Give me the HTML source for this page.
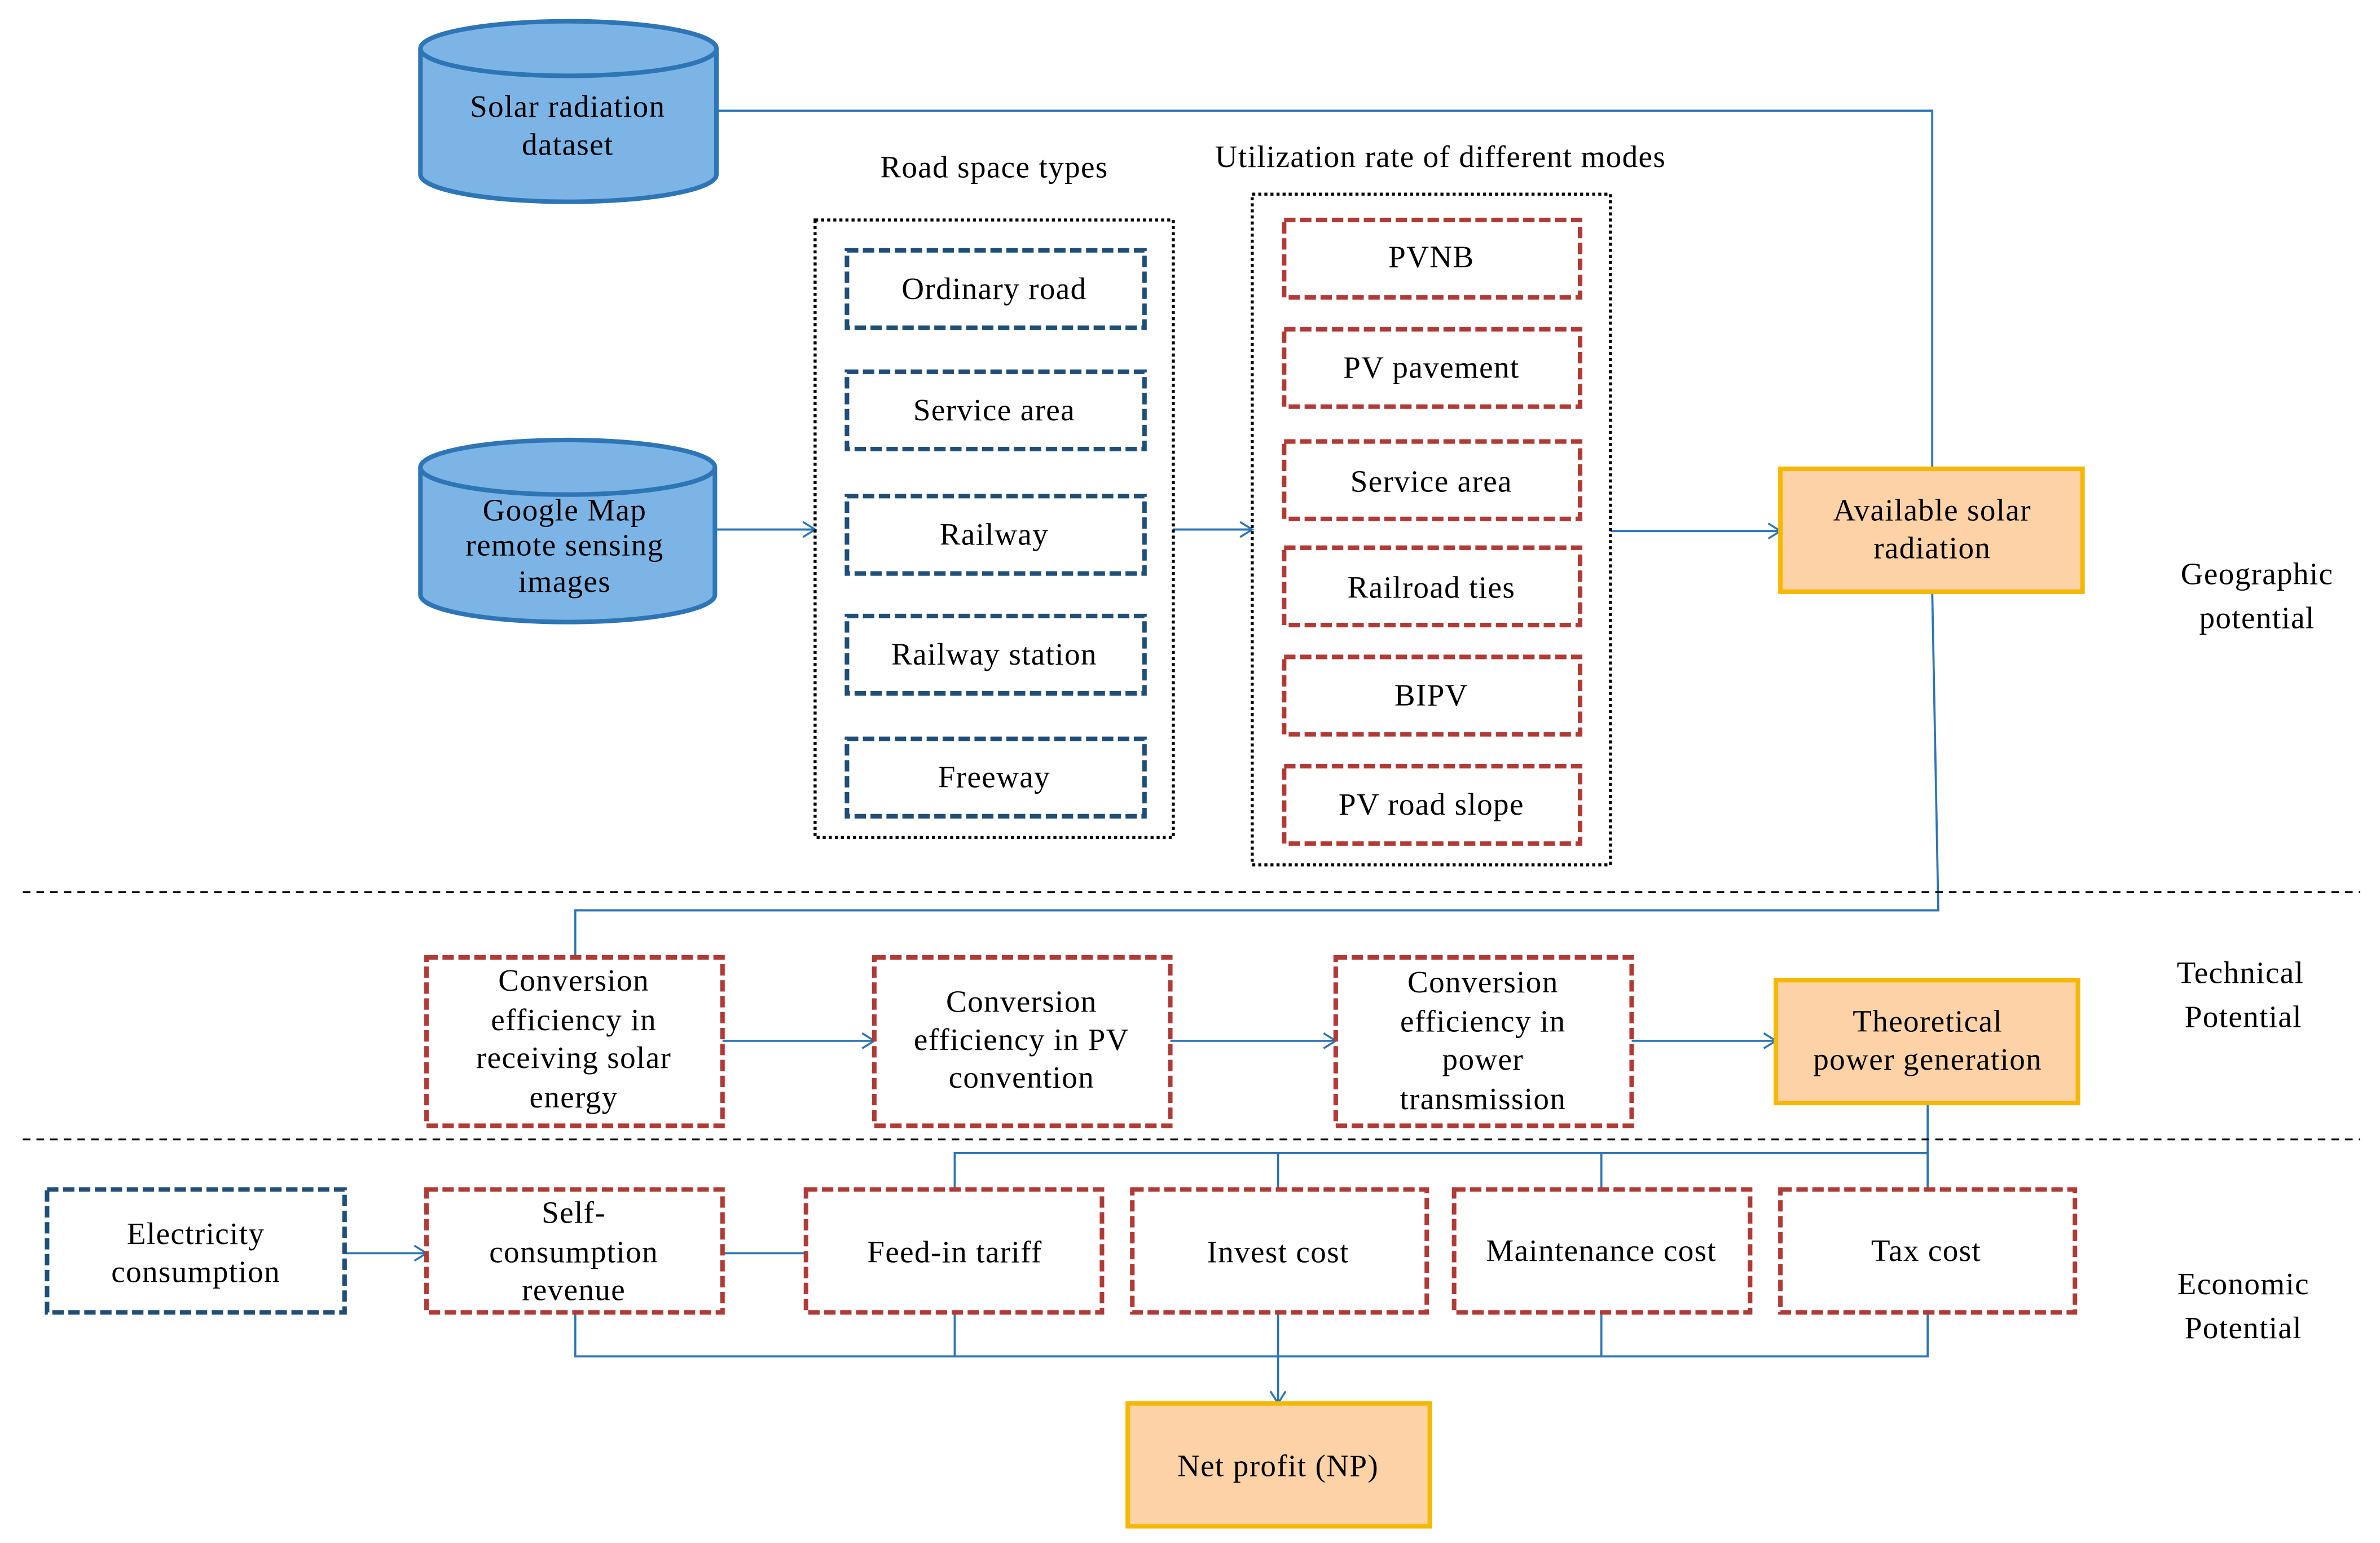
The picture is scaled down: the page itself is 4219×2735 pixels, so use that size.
<!DOCTYPE html>
<html><head><style>html,body{margin:0;padding:0;background:#fff}svg{display:block}</style></head><body>
<svg width="4219" height="2735" viewBox="0 0 1568 1017" preserveAspectRatio="none" xmlns="http://www.w3.org/2000/svg" font-family="'Liberation Serif', serif" font-size="20.5" letter-spacing="0.5" text-anchor="middle">
<defs>
<marker id="a" markerWidth="12" markerHeight="12" refX="10" refY="6" orient="auto" markerUnits="userSpaceOnUse"><path d="M2,1 L10,6 L2,11" fill="none" stroke="#2e75b6" stroke-width="1.3"/></marker>
</defs>
<g fill="none" stroke="#2e75b6" stroke-width="1.4">
<polyline points="472,73 1273,73 1273,309"/>
<line x1="471" y1="349" x2="537" y2="349" marker-end="url(#a)"/>
<line x1="773" y1="349" x2="825" y2="349" marker-end="url(#a)"/>
<line x1="1061" y1="350" x2="1173" y2="350" marker-end="url(#a)"/>
<polyline points="1273,390 1277,600 379,600 379,631"/>
<line x1="476" y1="686" x2="576" y2="686" marker-end="url(#a)"/>
<line x1="771" y1="686" x2="880" y2="686" marker-end="url(#a)"/>
<line x1="1075" y1="686" x2="1170" y2="686" marker-end="url(#a)"/>
<polyline points="1270,727 1270,760 629,760 629,784"/>
<line x1="842" y1="760" x2="842" y2="784"/><line x1="1055" y1="760" x2="1055" y2="784"/><line x1="1270" y1="760" x2="1270" y2="784"/>
<line x1="227" y1="826" x2="281" y2="826" marker-end="url(#a)"/>
<line x1="476" y1="826" x2="531" y2="826"/>
<polyline points="379,865 379,894 1270,894 1270,865"/>
<line x1="629" y1="865" x2="629" y2="894"/><line x1="1055" y1="865" x2="1055" y2="894"/>
<line x1="842" y1="865" x2="842" y2="925" marker-end="url(#a)"/>
</g>
<g fill="#7db4e6" stroke="#2e75b6" stroke-width="3">
<path d="M277,32 L277,115 A97.5,18 0 0 0 472,115 L472,32"/>
<ellipse cx="374.5" cy="32" rx="97.5" ry="18"/>
<path d="M277,308 L277,392 A97,18 0 0 0 471,392 L471,308"/>
<ellipse cx="374" cy="308" rx="97" ry="18"/>
</g>
<g fill="none" stroke="#000" stroke-width="2" stroke-dasharray="2,2">
<rect x="537" y="145" width="236" height="407"/>
<rect x="825" y="128" width="236" height="442"/>
</g>
<g stroke="#000" stroke-width="1.2" stroke-dasharray="5,4">
<line x1="15" y1="588" x2="1555" y2="588"/><line x1="15" y1="751" x2="1555" y2="751"/>
</g>
<g fill="#fff" stroke="#1f4e79" stroke-width="3" stroke-dasharray="7.5,3">
<rect x="558" y="165" width="196" height="51"/><rect x="558" y="245" width="196" height="51"/>
<rect x="558" y="327" width="196" height="51"/><rect x="558" y="406" width="196" height="51"/>
<rect x="558" y="487" width="196" height="51"/>
<rect x="31" y="784" width="196" height="81"/>
</g>
<g fill="#fff" stroke="#b03a35" stroke-width="3" stroke-dasharray="7.5,3">
<rect x="846" y="145" width="195" height="51"/><rect x="846" y="217" width="195" height="51"/>
<rect x="846" y="291" width="195" height="51"/><rect x="846" y="361" width="195" height="51"/>
<rect x="846" y="433" width="195" height="51"/><rect x="846" y="505" width="195" height="51"/>
<rect x="281" y="631" width="195" height="111"/><rect x="576" y="631" width="195" height="111"/>
<rect x="880" y="631" width="195" height="111"/>
<rect x="281" y="784" width="195" height="81"/><rect x="531" y="784" width="195" height="81"/>
<rect x="746" y="784" width="194" height="81"/><rect x="958" y="784" width="195" height="81"/>
<rect x="1173" y="784" width="194" height="81"/>
</g>
<g fill="#fdd2a6" stroke="#f5b800" stroke-width="3">
<rect x="1173" y="309" width="199" height="81"/><rect x="1170" y="646" width="199" height="81"/>
<rect x="743" y="925" width="199" height="81"/>
</g>
<g fill="#000">
<text x="374" y="77">Solar radiation</text><text x="374" y="102">dataset</text>
<text x="372" y="343">Google Map</text><text x="372" y="366">remote sensing</text><text x="372" y="390">images</text>
<text x="655" y="117">Road space types</text>
<text x="949" y="110">Utilization rate of different modes</text>
<text x="655" y="197">Ordinary  road</text><text x="655" y="277">Service  area</text>
<text x="655" y="359">Railway</text><text x="655" y="438">Railway  station</text><text x="655" y="519">Freeway</text>
<text x="943" y="176">PVNB</text><text x="943" y="249">PV pavement</text><text x="943" y="324">Service  area</text>
<text x="943" y="394">Railroad  ties</text><text x="943" y="465">BIPV</text><text x="943" y="537">PV road  slope</text>
<text x="1273" y="343">Available  solar</text><text x="1273" y="368">radiation</text>
<text x="1487" y="385">Geographic</text><text x="1487" y="414">potential</text>
<text x="378" y="653">Conversion</text><text x="378" y="679">efficiency  in</text><text x="378" y="704">receiving  solar</text><text x="378" y="730">energy</text>
<text x="673" y="667">Conversion</text><text x="673" y="692">efficiency  in PV</text><text x="673" y="717">convention</text>
<text x="977" y="654">Conversion</text><text x="977" y="680">efficiency  in</text><text x="977" y="705">power</text><text x="977" y="731">transmission</text>
<text x="1270" y="680">Theoretical</text><text x="1270" y="705">power  generation</text>
<text x="1476" y="648">Technical</text><text x="1478" y="677">Potential</text>
<text x="129" y="820">Electricity</text><text x="129" y="845">consumption</text>
<text x="378" y="806">Self-</text><text x="378" y="832">consumption</text><text x="378" y="857">revenue</text>
<text x="629" y="832">Feed-in  tariff</text><text x="842" y="832">Invest  cost</text>
<text x="1055" y="831">Maintenance  cost</text><text x="1269" y="831">Tax cost</text>
<text x="1478" y="853">Economic</text><text x="1478" y="882">Potential</text>
<text x="842" y="973">Net profit  (NP)</text>
</g>
</svg>
</body></html>
